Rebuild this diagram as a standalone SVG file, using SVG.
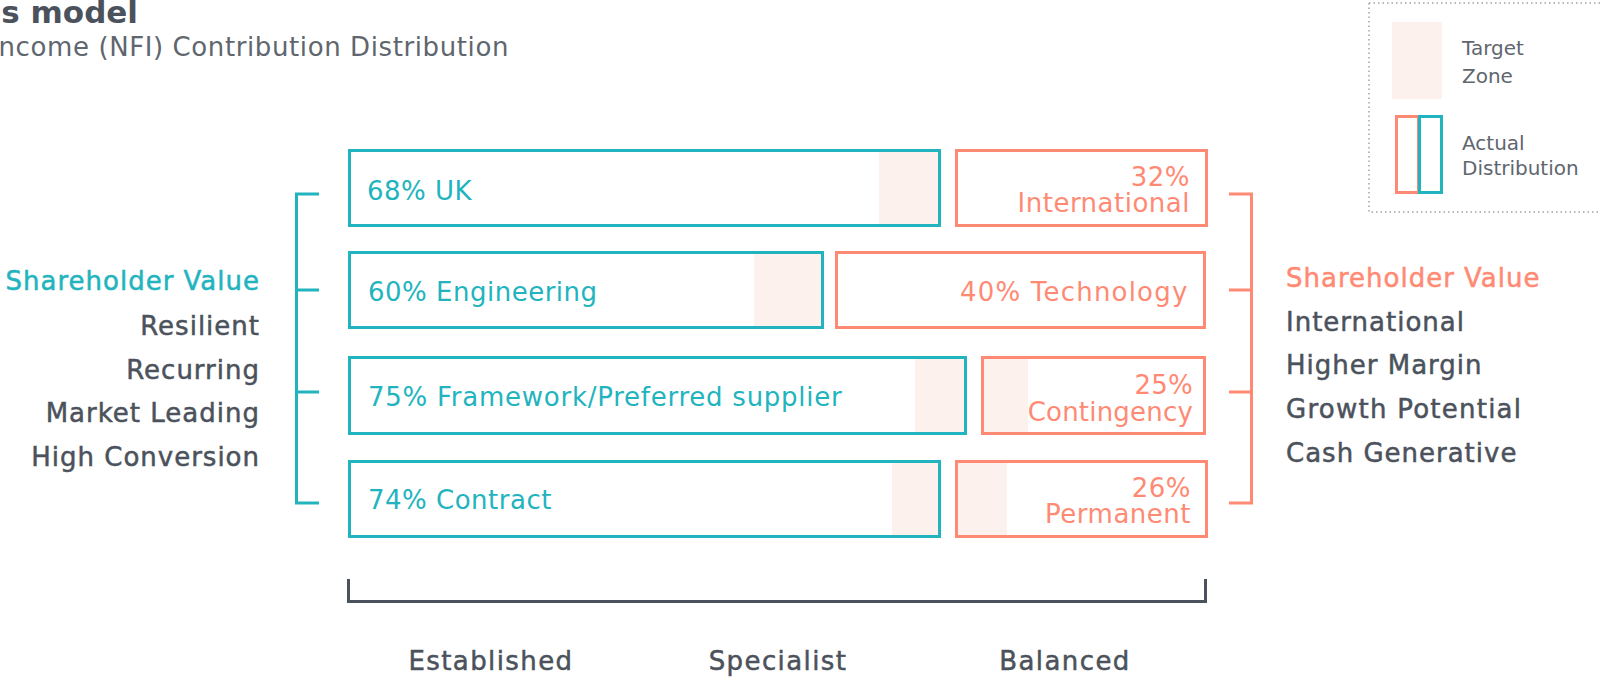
<svg xmlns="http://www.w3.org/2000/svg" width="1600" height="677" viewBox="0 0 1600 677">
<style>
text { font-family: "DejaVu Sans", "Liberation Sans", sans-serif; }
.bar-t { fill: none; stroke: #22b4be; stroke-width: 3; }
.bar-c { fill: none; stroke: #ff8a74; stroke-width: 3; }
.zone { fill: #fdf1ed; }
.tt { fill: #22b4be; font-size: 26px; letter-spacing: 0.5px; }
.tc { fill: #ff8a74; font-size: 26px; text-anchor: end; letter-spacing: 0.5px; }
.lab { fill: #4b525c; font-size: 26px; stroke: #4b525c; stroke-width: 0.5; letter-spacing: 1px; }
.labt { fill: #22b4be; stroke: #22b4be; }
.labc { fill: #ff8a74; stroke: #ff8a74; }
.leg { fill: #60666e; font-size: 20px; }
.axis { fill: #4b525c; font-size: 26px; text-anchor: middle; stroke: #4b525c; stroke-width: 0.5; letter-spacing: 1.4px; }
.br-t { fill: none; stroke: #22b4be; stroke-width: 3; }
.br-c { fill: none; stroke: #ff8a74; stroke-width: 3; }
</style>
<rect width="1600" height="677" fill="#ffffff"/>

<g id="title">
<text x="138" y="23" text-anchor="end" font-size="31" font-weight="bold" fill="#4b525c">s model</text>
<text x="509" y="56" text-anchor="end" font-size="26" fill="#60666e" style="letter-spacing:0.6px">ncome (NFI) Contribution Distribution</text>
</g>

<g id="legend">
<path d="M1369 3 H1600 M1369 3 V212 H1600" fill="none" stroke="#a3a3a3" stroke-width="1.5" stroke-dasharray="1.5 3"/>
<rect class="zone" x="1392" y="22" width="50" height="77"/>
<rect class="bar-c" x="1396.5" y="116.5" width="22" height="76"/>
<rect class="bar-t" x="1419.5" y="116.5" width="22" height="76"/>
<text class="leg" x="1462" y="55">Target</text>
<text class="leg" x="1462" y="83">Zone</text>
<text class="leg" x="1462" y="150">Actual</text>
<text class="leg" x="1462" y="175">Distribution</text>
</g>

<g id="row1-uk">
<rect class="zone" x="879" y="150" width="61" height="76"/>
<rect class="bar-t" x="349.5" y="150.5" width="590" height="75"/>
<text class="tt" x="367" y="200">68% UK</text>
</g>
<g id="row1-international">
<rect class="bar-c" x="956.5" y="150.5" width="250" height="75"/>
<text class="tc"><tspan x="1190" y="186">32%</tspan><tspan x="1190" y="212">International</tspan></text>
</g>

<g id="row2-engineering">
<rect class="zone" x="754" y="253" width="69" height="75"/>
<rect class="bar-t" x="349.5" y="252.5" width="473" height="75"/>
<text class="tt" x="368" y="301">60% Engineering</text>
</g>
<g id="row2-technology">
<rect class="bar-c" x="836.5" y="252.5" width="368" height="75"/>
<text class="tc" x="1188.5" y="301" style="letter-spacing:1.2px">40% Technology</text>
</g>

<g id="row3-framework">
<rect class="zone" x="915" y="358" width="51" height="76"/>
<rect class="bar-t" x="349.5" y="357.5" width="616" height="76"/>
<text class="tt" x="368" y="406" style="letter-spacing:0.75px">75% Framework/Preferred supplier</text>
</g>
<g id="row3-contingency">
<rect class="zone" x="982" y="358" width="46" height="76"/>
<rect class="bar-c" x="982.5" y="357.5" width="222" height="76"/>
<text class="tc" style="letter-spacing:0.2px"><tspan x="1193" y="394">25%</tspan><tspan x="1193" y="421">Contingency</tspan></text>
</g>

<g id="row4-contract">
<rect class="zone" x="892" y="462" width="48" height="74"/>
<rect class="bar-t" x="349.5" y="461.5" width="590" height="75"/>
<text class="tt" x="368" y="509">74% Contract</text>
</g>
<g id="row4-permanent">
<rect class="zone" x="956" y="462" width="51" height="74"/>
<rect class="bar-c" x="956.5" y="461.5" width="250" height="75"/>
<text class="tc"><tspan x="1191" y="497">26%</tspan><tspan x="1191" y="523">Permanent</tspan></text>
</g>

<g id="left-labels" text-anchor="end">
<text class="lab labt" x="260" y="290">Shareholder Value</text>
<text class="lab" x="260" y="335">Resilient</text>
<text class="lab" x="260" y="379">Recurring</text>
<text class="lab" x="260" y="422">Market Leading</text>
<text class="lab" x="260" y="466">High Conversion</text>
</g>

<g id="right-labels">
<text class="lab labc" x="1286" y="287">Shareholder Value</text>
<text class="lab" x="1286" y="331">International</text>
<text class="lab" x="1286" y="374">Higher Margin</text>
<text class="lab" x="1286" y="418" style="letter-spacing:1.25px">Growth Potential</text>
<text class="lab" x="1286" y="462">Cash Generative</text>
</g>

<g id="connectors">
<path class="br-t" d="M319 194 H296.5 V503 H319 M296.5 290 H319 M296.5 392 H319"/>
<path class="br-c" d="M1229 194 H1251.5 V503 H1229 M1251.5 290 H1229 M1251.5 392 H1229"/>
<path d="M348.5 579 V601.5 H1205.5 V579" fill="none" stroke="#4b525c" stroke-width="3"/>
</g>

<g id="axis-labels">
<text class="axis" x="491" y="670">Established</text>
<text class="axis" x="778" y="670">Specialist</text>
<text class="axis" x="1065" y="670">Balanced</text>
</g>
</svg>
